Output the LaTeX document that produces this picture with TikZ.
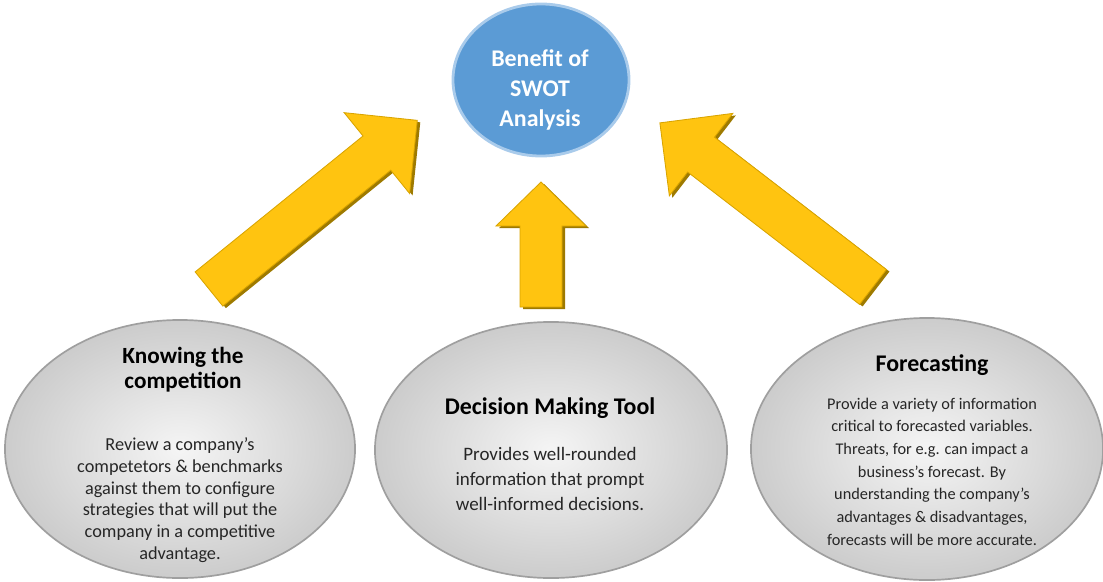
\documentclass[tikz,border=0pt]{standalone}
\usepackage{fontspec}
\setmainfont{Carlito}
\usetikzlibrary{shapes.geometric}
\definecolor{swotblue}{HTML}{5B9BD5}
\definecolor{swotrim}{HTML}{A9CBEB}
\definecolor{arrowgold}{HTML}{FFC410}
\definecolor{arrowdark}{HTML}{9E7A00}
\definecolor{arrowedge}{HTML}{D9A400}
\begin{document}
\begin{tikzpicture}[x=0.025cm,y=0.025cm,
    oval/.style={ellipse,inner sep=0pt,draw=gray!75,line width=1.2pt,
          shading=radial,inner color=gray!8,outer color=gray!40},
    head/.style={font=\fontsize{16.5}{18}\selectfont\bfseries,align=center},
    body/.style={font=\fontsize{13}{15.4}\selectfont,align=center,text=black!85},
    arrowface/.style={fill=arrowgold,draw=arrowedge,line width=0.6pt},
    arrowside/.style={fill=arrowdark}]
  \useasboundingbox (0,0) rectangle (1103,581);
  \foreach \name/\x/\y/\ang/\len/\hw/\hh/\hl in
      {knowArr/209/292/39/268/22/52/52, toolArr/541/274/90/125/21/45/44,
       castArr/873/294/142.4/269/22/52/52}{
    \coordinate (\name) at (\x,\y);
    \fill[arrowside,shift={(\x+3,\y-2)},rotate=\ang] (0,-\hw) -- (\len-\hl,-\hw) -- (\len-\hl,-\hh)
      -- (\len,0) -- (\len-\hl,\hh) -- (\len-\hl,\hw) -- (0,\hw) -- cycle;
    \filldraw[arrowface,shift={(\name)},rotate=\ang] (0,-\hw) -- (\len-\hl,-\hw) -- (\len-\hl,-\hh)
      -- (\len,0) -- (\len-\hl,\hh) -- (\len-\hl,\hw) -- (0,\hw) -- cycle;
  }
  \node[oval,minimum width=8.75cm,minimum height=6.45cm] (knowing) at (180,132) {};
  \node[oval,minimum width=8.8cm,minimum height=6.4cm] (decision) at (551,131) {};
  \node[oval,minimum width=8.8cm,minimum height=6.55cm] (forecast) at (927,132) {};
  \node[ellipse,fill=swotblue,draw=swotrim,line width=2pt,minimum width=4.4cm,
        minimum height=3.8cm] (swot) at (541,501) {};
  \node[font=\fontsize{17}{21.3}\selectfont\bfseries,align=center,text=white] (swotT)
      at (540,491) {Benefit of\\SWOT\\Analysis};
  \node[head] (knowingT) at (183,211.5) {Knowing the\\competition};
  \node[body] (knowingB) at (180,81) {Review a company’s\\competetors \& benchmarks\\against them to configure\\strategies that will put the\\company in a competitive\\advantage.};
  \node[head,font=\fontsize{17}{19}\selectfont\bfseries] (decisionT) at (550,173) {Decision Making Tool};
  \node[body,font=\fontsize{13.5}{17.7}\selectfont] (decisionB) at (550,102) {Provides well-rounded\\information that prompt\\well-informed decisions.};
  \node[head,font=\fontsize{17}{19}\selectfont\bfseries] (forecastT) at (932,216) {Forecasting};
  \node[body,font=\fontsize{11.6}{16.1}\selectfont] (forecastB) at (932,109.5) {Provide a variety of information\\critical to forecasted variables.\\Threats, for e.g. can impact a\\business’s forecast. By\\understanding the company’s\\advantages \& disadvantages,\\forecasts will be more accurate.};
\end{tikzpicture}
\end{document}
